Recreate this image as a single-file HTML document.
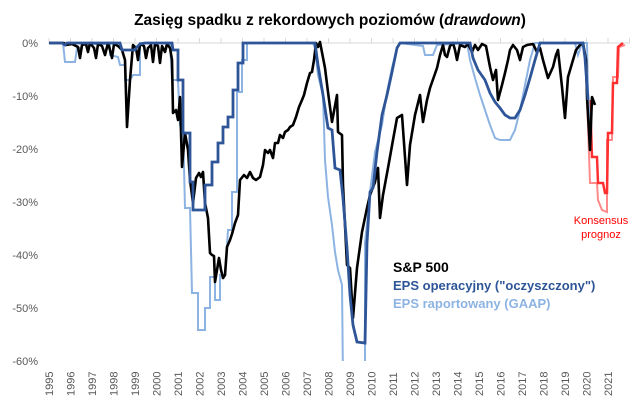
<!DOCTYPE html>
<html><head><meta charset="utf-8"><style>
body{margin:0;background:#fff;}
svg{display:block;font-family:"Liberation Sans",sans-serif;}
</style></head><body>
<svg width="644" height="406" viewBox="0 0 644 406">
<defs><clipPath id="pc"><rect x="40" y="30" width="600" height="331"/></clipPath></defs>
<rect width="644" height="406" fill="#fff"/>
<text x="330" y="25" text-anchor="middle" font-size="15.5" font-weight="bold" fill="#000">Zasięg spadku z rekordowych poziomów (<tspan font-style="italic">drawdown</tspan>)</text>
<line x1="48" y1="43" x2="630" y2="43" stroke="#d9d9d9" stroke-width="1"/>
<g stroke="#d9d9d9" stroke-width="1">
<line x1="49" y1="38" x2="49" y2="43"/><line x1="70.5" y1="38" x2="70.5" y2="43"/><line x1="92" y1="38" x2="92" y2="43"/><line x1="113.5" y1="38" x2="113.5" y2="43"/><line x1="135" y1="38" x2="135" y2="43"/><line x1="156.5" y1="38" x2="156.5" y2="43"/><line x1="178" y1="38" x2="178" y2="43"/><line x1="199.5" y1="38" x2="199.5" y2="43"/><line x1="221" y1="38" x2="221" y2="43"/><line x1="242.5" y1="38" x2="242.5" y2="43"/><line x1="264" y1="38" x2="264" y2="43"/><line x1="285.5" y1="38" x2="285.5" y2="43"/><line x1="307" y1="38" x2="307" y2="43"/><line x1="328.5" y1="38" x2="328.5" y2="43"/><line x1="350" y1="38" x2="350" y2="43"/><line x1="371.5" y1="38" x2="371.5" y2="43"/><line x1="393" y1="38" x2="393" y2="43"/><line x1="414.5" y1="38" x2="414.5" y2="43"/><line x1="436" y1="38" x2="436" y2="43"/><line x1="457.5" y1="38" x2="457.5" y2="43"/><line x1="479" y1="38" x2="479" y2="43"/><line x1="500.5" y1="38" x2="500.5" y2="43"/><line x1="522" y1="38" x2="522" y2="43"/><line x1="543.5" y1="38" x2="543.5" y2="43"/><line x1="565" y1="38" x2="565" y2="43"/><line x1="586.5" y1="38" x2="586.5" y2="43"/><line x1="608" y1="38" x2="608" y2="43"/><line x1="629.5" y1="38" x2="629.5" y2="43"/>
</g>
<g font-size="11" fill="#595959" text-anchor="end">
<text x="38" y="47">0%</text><text x="38" y="100">-10%</text><text x="38" y="153">-20%</text><text x="38" y="206">-30%</text><text x="38" y="259">-40%</text><text x="38" y="312">-50%</text><text x="38" y="365">-60%</text>
</g>
<g font-size="11" fill="#595959" text-anchor="start">
<text transform="translate(53,396) rotate(-90)">1995</text><text transform="translate(74.5,396) rotate(-90)">1996</text><text transform="translate(96,396) rotate(-90)">1997</text><text transform="translate(117.5,396) rotate(-90)">1998</text><text transform="translate(139,396) rotate(-90)">1999</text><text transform="translate(160.5,396) rotate(-90)">2000</text><text transform="translate(182,396) rotate(-90)">2001</text><text transform="translate(203.5,396) rotate(-90)">2002</text><text transform="translate(225,396) rotate(-90)">2003</text><text transform="translate(246.5,396) rotate(-90)">2004</text><text transform="translate(268,396) rotate(-90)">2005</text><text transform="translate(289.5,396) rotate(-90)">2006</text><text transform="translate(311,396) rotate(-90)">2007</text><text transform="translate(332.5,396) rotate(-90)">2008</text><text transform="translate(354,396) rotate(-90)">2009</text><text transform="translate(375.5,396) rotate(-90)">2010</text><text transform="translate(397,396) rotate(-90)">2011</text><text transform="translate(418.5,396) rotate(-90)">2012</text><text transform="translate(440,396) rotate(-90)">2013</text><text transform="translate(461.5,396) rotate(-90)">2014</text><text transform="translate(483,396) rotate(-90)">2015</text><text transform="translate(504.5,396) rotate(-90)">2016</text><text transform="translate(526,396) rotate(-90)">2017</text><text transform="translate(547.5,396) rotate(-90)">2018</text><text transform="translate(569,396) rotate(-90)">2019</text><text transform="translate(590.5,396) rotate(-90)">2020</text><text transform="translate(612,396) rotate(-90)">2021</text>
</g>
<g clip-path="url(#pc)">
<polyline fill="none" stroke="#ff8a8a" stroke-width="2" points="587,97 590,183 597,183 598,200 602,210 607,212 607,140 612,140 613,77 618,77 619,47 625,45"/>
<polyline fill="none" stroke="#ff3030" stroke-width="2.5" points="590,100 592,157 597,157 598,183 603,183 605,193 607,193 608,133 612,133 613,83 617,83 618,47 623,43"/>
<polyline fill="none" stroke="#8db3e2" stroke-width="2" points="49,43 63,43 65,62 75,62 77,48 82,48 82,44 110,44 110,55 118,57 120,65 125,65 125,80 130,80 133,75 140,75 140,43 170,43 172,80 178,80 180,125 183,125 185,208 190,208 192,293 198,293 198,330 205,330 205,308 210,308 210,277 215,277 215,300 220,300 220,275 225,275 228,230 232,230 232,192 237,192 237,92 242,92 242,60 247,60 247,43 313,43 315,48 318,75 323,95 325,160 328,197 332,225 335,252 338,270 342,285 343,380 365,380 365,242 368,215 370,192 375,152 382,125 387,92 392,68 397,48 400,43 423,46 425,55 433,55 437,45 467,43 470,60 475,78 480,95 485,110 490,125 495,138 500,140 510,140 515,130 520,110 525,85 530,60 535,43 575,43 578,55 582,43 587,43 588,90 590,128"/>
<polyline fill="none" stroke="#000" stroke-width="2.6" stroke-linejoin="round" points="49,43 64,43 66,45 72,44 78,47 80,58 82,45 86,44 88,52 90,43 94,48 96,58 98,44 102,46 105,55 108,43 110,50 112,58 114,44 118,46 122,50 125,60 127,127 130,80 133,45 136,48 138,60 140,44 144,46 146,58 148,48 151,45 153,62 155,44 158,46 160,63 162,46 165,52 167,44 170,48 172,60 173,113 176,110 178,120 180,97 182,167 185,133 188,150 190,180 193,203 196,178 199,173 201,177 203,172 205,203 208,218 210,253 212,255 214,256 215,282 217,270 219,258 221,270 223,278 225,275 227,247 230,240 232,234 235,223 238,215 240,180 244,175 247,178 250,172 253,178 256,180 260,177 263,165 265,150 268,153 270,150 273,158 275,143 278,143 280,135 283,138 285,132 288,130 290,127 293,125 296,117 299,107 302,100 304,95 307,83 310,73 312,72 314,60 316,43 318,47 320,42 325,68 328,92 332,122 337,95 338,132 342,135 343,185 347,265 350,268 353,318 357,268 362,232 367,208 370,195 375,182 378,168 380,218 383,195 388,168 393,140 397,118 402,115 407,185 410,145 415,115 420,95 423,122 427,100 430,88 437,68 440,55 443,45 445,55 447,57 450,46 453,43 455,50 457,60 460,45 465,47 468,44 472,52 475,45 478,50 482,44 486,46 490,67 493,80 496,70 498,100 502,85 505,73 508,60 510,50 513,45 517,50 520,60 523,47 527,45 533,44 537,52 540,48 543,60 548,78 553,67 556,55 558,50 562,87 565,118 568,77 573,60 576,50 580,45 583,43 586,60 587,97 590,150 592,97 595,105"/>
<polyline fill="none" stroke="#2e5597" stroke-width="2.8" points="49,43 62,43 65,45 67,43 120,43 122,50 135,50 137,47 140,44 145,43 172,43 173,50 178,50 178,80 183,80 183,133 190,133 190,182 193,182 193,210 205,210 205,185 212,185 212,162 218,162 218,143 223,143 223,127 228,127 228,117 233,117 233,90 238,90 238,63 243,63 243,43 315,43 318,65 323,95 328,128 332,130 335,168 340,170 343,198 347,248 350,295 353,325 357,342 365,343 367,243 370,192 373,188 377,152 382,115 387,95 392,72 397,48 400,43 470,43 473,58 478,70 485,80 490,93 495,102 500,108 505,115 510,118 515,118 520,110 525,95 530,78 535,60 540,43 583,43 585,58 588,100"/>
</g>
<text x="393" y="272" font-size="14" font-weight="bold" fill="#000">S&amp;P 500</text>
<text x="393" y="290" font-size="13" font-weight="bold" fill="#2e5597">EPS operacyjny ("oczyszczony")</text>
<text x="393" y="308" font-size="13" font-weight="bold" fill="#8db3e2">EPS raportowany (GAAP)</text>
<text x="601" y="224" font-size="11" fill="#ff0000" text-anchor="middle">Konsensus</text>
<text x="601" y="238" font-size="11" fill="#ff0000" text-anchor="middle">prognoz</text>
</svg>
</body></html>
